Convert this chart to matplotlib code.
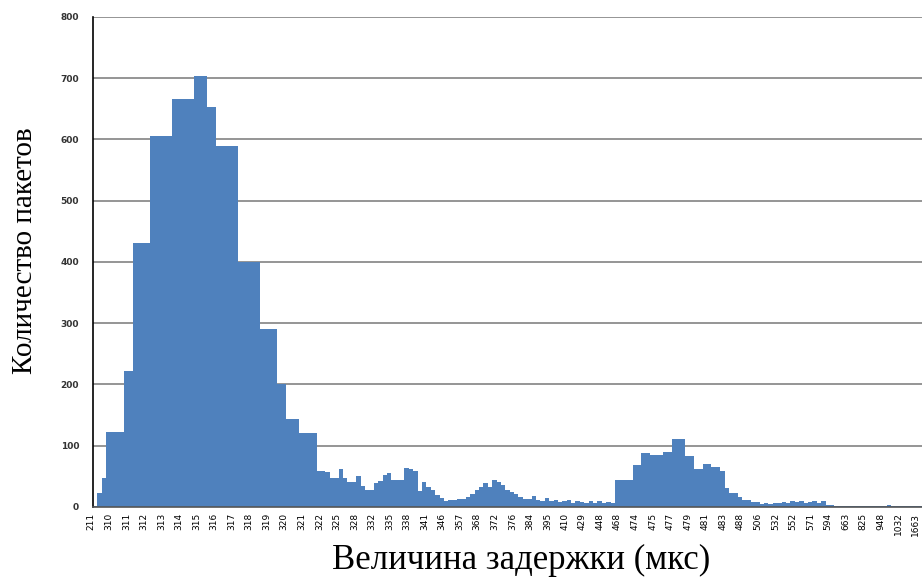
import numpy as np
import matplotlib
matplotlib.use("Agg")
import matplotlib.pyplot as plt
import matplotlib.transforms as mtransforms

# delay labels shown under every 4th category
tick_labels = ['211', '310', '311', '312', '313', '314', '315', '316', '317', '318',
               '319', '320', '321', '322', '325', '328', '332', '335', '338', '341',
               '346', '357', '368', '372', '376', '384', '395', '410', '429', '448',
               '468', '474', '475', '477', '479', '481', '483', '488', '506', '532',
               '552', '571', '594', '663', '825', '948', '1032', '1663']

# packet counts per delay category
counts = [
    1, 23, 47, 122, 122, 122, 122, 222, 222, 431,
    431, 431, 431, 606, 606, 606, 606, 606, 666, 666,
    666, 666, 666, 704, 704, 704, 653, 653, 589, 589,
    589, 589, 589, 400, 400, 400, 400, 400, 290, 290,
    290, 290, 200, 200, 143, 143, 143, 120, 120, 120,
    120, 58, 59, 57, 47, 47, 62, 47, 41, 41,
    51, 34, 28, 28, 39, 43, 52, 56, 44, 44,
    44, 64, 62, 59, 26, 40, 33, 28, 19, 14,
    10, 12, 12, 13, 13, 16, 22, 28, 32, 39,
    33, 44, 41, 36, 28, 25, 22, 17, 13, 13,
    18, 12, 10, 14, 9, 11, 8, 10, 12, 7,
    9, 8, 6, 9, 7, 10, 6, 8, 7, 44,
    44, 44, 44, 69, 69, 88, 88, 85, 85, 85,
    90, 90, 111, 111, 111, 83, 83, 62, 62, 70,
    70, 65, 65, 58, 31, 23, 23, 17, 11, 11,
    8, 8, 5, 6, 5, 7, 6, 8, 7, 9,
    8, 10, 7, 8, 10, 6, 9, 4, 3, 2,
    2, 1, 1, 2, 1, 1, 1, 2, 1, 1,
    1, 3, 1, 1, 1, 1, 2, 1, 1,
]
label_step = 4

x = np.arange(len(counts))

fig = plt.figure(figsize=(9.22, 5.81), dpi=100)
ax = fig.add_axes([0.1009, 0.1274, 0.8991, 0.8434])

ax.bar(x, counts, width=1.0, color='#4F81BD', linewidth=0, zorder=2)

ax.set_xlim(-0.5, len(counts) - 0.5)
ax.set_ylim(0, 800)
ax.set_yticks(range(0, 801, 100))
ax.yaxis.grid(True, color='#8c8c8c', linewidth=1.3, zorder=1)
ax.set_axisbelow(True)

ax.set_xticks(x[::label_step])
ax.set_xticklabels(tick_labels, rotation=90, fontsize=6.5)
ax.tick_params(axis='x', length=0, pad=4)
ax.tick_params(axis='y', length=0, pad=10, labelsize=6.5)

# labels sit a little left of their category, as in the original
shift = mtransforms.ScaledTranslation(-4 / 100, 0, fig.dpi_scale_trans)
for lab in ax.get_xticklabels():
    lab.set_transform(lab.get_transform() + shift)

for lab in ax.get_yticklabels():
    lab.set_fontweight('bold')
    lab.set_color('#333333')

for s in ['top', 'right']:
    ax.spines[s].set_visible(False)
ax.spines['left'].set_color('black')
ax.spines['left'].set_linewidth(1.2)
ax.spines['bottom'].set_color('#555555')
ax.spines['bottom'].set_linewidth(1.2)

ax.set_xlabel('Величина задержки (мкс)', family='Liberation Serif', fontsize=25)
ax.xaxis.set_label_coords(0.516, -0.075)
ax.set_ylabel('Количество пакетов', family='Liberation Serif', fontsize=21)
ax.yaxis.set_label_coords(-0.066, 0.524)

fig.savefig('out.png', dpi=100)
